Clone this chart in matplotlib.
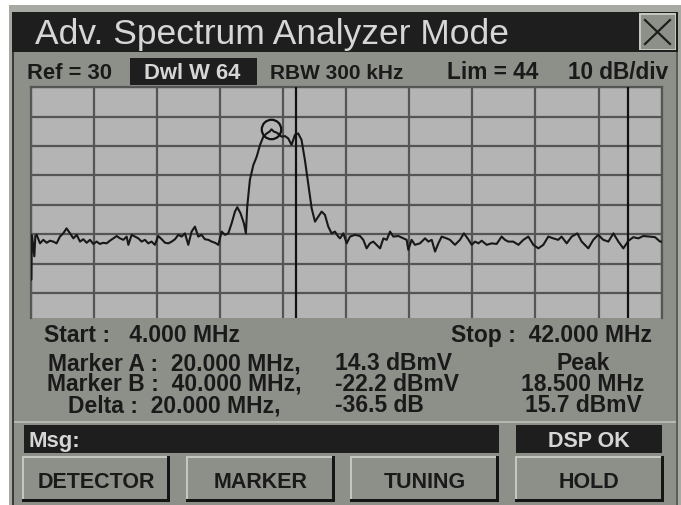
import matplotlib
matplotlib.use('Agg')
import matplotlib.pyplot as plt
from matplotlib.patches import Rectangle
from matplotlib import font_manager

# ---------------- data ----------------
f_start, f_stop = 4.0, 42.0
ref_level, db_per_div = 30, 10
n_xdiv = 10
y_bottom = -48.6

noise_left_freq = [4.00, 4.03, 4.08, 4.22, 4.28, 4.36, 4.56, 4.76, 4.96, 5.16,
                   5.36, 5.56, 5.76, 5.96, 6.16, 6.37, 6.57, 6.77, 6.97, 7.17,
                   7.37, 7.57, 7.77, 7.97, 8.17, 8.37, 8.57, 8.77, 8.97, 9.18,
                   9.38, 9.58, 9.78, 9.88, 10.08, 10.28, 10.48, 10.68, 10.88, 11.08,
                   11.28, 11.48, 11.68, 11.89, 12.09, 12.29, 12.49, 12.69, 12.89, 13.09,
                   13.29, 13.49, 13.69, 13.89, 14.09, 14.29, 14.49, 14.70, 14.90, 15.10,
                   15.30, 15.50, 15.70, 15.90]
noise_left_level = [-20.2, -35.5, -20.4, -27.5, -20.5, -20.2, -23.1, -21.9, -22.9, -22.2,
                    -22.5, -23.1, -20.8, -19.7, -18.0, -19.7, -21.4, -20.2, -22.5, -21.7,
                    -22.9, -21.9, -23.3, -22.5, -23.3, -22.9, -23.1, -22.2, -21.4, -20.6,
                    -21.4, -21.9, -20.8, -23.6, -20.2, -20.8, -21.4, -22.5, -21.9, -23.1,
                    -22.5, -23.6, -20.6, -21.7, -22.9, -23.1, -22.5, -21.7, -20.2, -20.8,
                    -19.7, -23.6, -19.1, -17.4, -20.8, -20.2, -21.7, -21.9, -22.5, -22.9,
                    -23.6, -19.1, -20.2, -19.7]

signal_freq = [16.10, 16.30, 16.44, 16.64, 16.84, 16.96, 17.04, 17.20, 17.41, 17.61,
               17.81, 18.01, 18.21, 18.38, 18.50, 18.65, 18.81, 19.11, 19.31, 19.51,
               19.71, 19.91, 20.11, 20.31, 20.52, 20.72, 20.92, 21.12, 21.32, 21.52,
               21.72, 21.92, 22.12, 22.32, 22.52]
signal_level = [-16.3, -12.3, -10.8, -12.9, -16.3, -19.7, -10.6, -1.5, 3.6, 6.4,
                10.4, 13.2, 14.3, 14.9, 15.7, 14.9, 14.6, 13.2, 13.4, 12.6,
                10.4, 13.8, 14.3, 12.1, 5.0, -3.0, -11.2, -15.7, -14.0, -12.3,
                -13.4, -17.4, -19.7, -19.1, -20.8]

noise_right_freq = [22.63, 22.83, 23.03, 23.23, 23.53, 23.83, 24.03, 24.23, 24.43, 24.63,
                    24.83, 25.04, 25.24, 25.44, 25.64, 25.84, 26.14, 26.44, 26.64, 26.74,
                    26.94, 27.14, 27.44, 27.75, 27.95, 28.15, 28.35, 28.55, 28.75, 29.05,
                    29.25, 29.55, 29.85, 30.09, 30.35, 30.56, 30.76, 30.96, 31.16, 31.46,
                    31.76, 32.06, 32.36, 32.56, 32.76, 33.06, 33.37, 33.67, 33.97, 34.27,
                    34.57, 34.87, 35.17, 35.47, 35.77, 35.97, 36.28, 36.58, 36.92, 37.18,
                    37.58, 37.88, 38.18, 38.48, 38.79, 39.09, 39.39, 39.69, 40.00, 40.29,
                    40.59, 40.89, 41.29, 41.60, 41.90, 42.00]
noise_right_level = [-21.4, -19.7, -23.1, -20.8, -20.2, -20.6, -21.9, -24.8, -23.1, -22.5,
                     -23.6, -24.8, -21.4, -21.9, -19.1, -20.8, -20.6, -21.4, -21.9, -25.3,
                     -21.9, -23.6, -23.1, -21.4, -22.5, -21.9, -25.9, -23.1, -20.8, -21.4,
                     -21.9, -23.6, -21.9, -19.7, -21.7, -23.6, -22.5, -23.1, -22.2, -23.6,
                     -23.1, -23.3, -20.8, -21.9, -22.5, -22.5, -23.6, -21.9, -20.8, -23.6,
                     -24.8, -23.6, -20.8, -21.4, -21.9, -20.8, -23.1, -20.8, -19.7, -22.5,
                     -24.8, -21.9, -20.2, -21.9, -22.5, -19.7, -22.5, -24.8, -22.2, -21.0,
                     -21.4, -20.6, -20.8, -21.0, -22.5, -22.5]

marker_freqs = [20.0, 40.0]
peak_freq, peak_level = 18.5, 15.7

title_text = "Adv. Spectrum Analyzer Mode"
ref_text = "Ref = 30"
dwell_text = "Dwl W 64"
rbw_text = "RBW 300 kHz"
lim_text = "Lim = 44"
scale_text = "10 dB/div"
start_text = "Start :   4.000 MHz"
stop_text = "Stop :  42.000 MHz"
row_labels = ["Marker A :  20.000 MHz,", "Marker B :  40.000 MHz,", "Delta :  20.000 MHz,"]
row_values = ["14.3 dBmV", "-22.2 dBmV", "-36.5 dB"]
peak_labels = ["Peak", "18.500 MHz", "15.7 dBmV"]
msg_text = "Msg:"
status_text = "DSP OK"
buttons = ["DETECTOR", "MARKER", "TUNING", "HOLD"]

# ---------------- style ----------------
W, H = 681, 505
PANEL = '#8d9089'
DARK = '#1e1e1e'
LIGHT = '#c4c6c0'
TXT = '#1a1a1a'
LTXT = '#d6d6d6'
PLOTBG = '#b4b4b4'
GRID = '#555555'

names = {f.name for f in font_manager.fontManager.ttflist}
FONT = 'Liberation Sans' if 'Liberation Sans' in names else 'DejaVu Sans'

fig = plt.figure(figsize=(W / 100, H / 100), dpi=100, facecolor='white')
ui = fig.add_axes([0, 0, 1, 1])
ui.set_xlim(0, W)
ui.set_ylim(H, 0)
ui.axis('off')


def rect(x0, y0, x1, y1, color, z=1):
    ui.add_patch(Rectangle((x0, y0), x1 - x0, y1 - y0, facecolor=color,
                           edgecolor='none', zorder=z))


def txt(x, y, s, size, color=TXT, ha='left', weight='bold'):
    ui.text(x, y, s, fontsize=size, color=color, ha=ha, va='baseline',
            fontweight=weight, family=FONT, zorder=5)


# outer frame
rect(9, 5, W, H, '#a7aaa3')
rect(12, 12, 678, H, PANEL)
rect(12, 12, 678, 52, DARK)
rect(12, 52, 14, H, '#3a3b38', z=2)
rect(676, 52, 678, H, '#5a5c57', z=2)

# title
txt(35, 44, title_text, 25.5, color=LTXT, weight='normal')

# close button
rect(639, 13, 676, 50, LIGHT, z=2)
rect(641, 15, 675, 49, PANEL, z=2)
ui.plot([645, 670], [20, 44], color=DARK, lw=1.6, zorder=3)
ui.plot([645, 670], [44, 20], color=DARK, lw=1.6, zorder=3)

# header row
txt(27, 79, ref_text, 15.8)
rect(130, 58, 257, 85, DARK, z=2)
txt(192, 79, dwell_text, 15.8, color=LTXT, ha='center')
txt(270, 79, rbw_text, 15.0)
txt(447, 79, lim_text, 16.3)
txt(668, 79, scale_text, 16.3, ha='right')

# bottom info
txt(44, 342, start_text, 16.5)
txt(652, 342, stop_text, 16.5, ha='right')
for i, (lab, val, pk) in enumerate(zip(row_labels, row_values, peak_labels)):
    yb = 370 + i * 21
    txt(174, yb, lab, 16.5, ha='center')
    txt(335, yb, val, 16.5)
    txt(583, yb, pk, 16.5, ha='center')

# separator + message bar
rect(14, 421, 676, 423, '#b5b7b1', z=2)
rect(24, 425, 499, 453, DARK, z=2)
txt(29, 447, msg_text, 16, color=LTXT)
rect(516, 425, 662, 453, DARK, z=2)
txt(589, 447, status_text, 15.5, color=LTXT, ha='center')

# buttons
btn_x = [(22, 170), (186, 335), (350, 499), (515, 664)]
for (x0, x1), lab in zip(btn_x, buttons):
    rect(x0, 456, x1, 502, '#151515', z=2)
    rect(x0, 456, x1 - 3, 499, LIGHT, z=2)
    rect(x0 + 2, 458, x1 - 3, 499, PANEL, z=2)
    txt((x0 + x1) / 2, 488, lab, 15.5, ha='center')

# ---------------- spectrum plot ----------------
px0, px1, py0, py1 = 30.7, 661.7, 87.3, 318.3
ax = fig.add_axes([px0 / W, 1 - py1 / H, (px1 - px0) / W, (py1 - py0) / H])
ax.set_facecolor(PLOTBG)
ax.set_xlim(f_start, f_stop)
ax.set_ylim(y_bottom, ref_level)
step = (f_stop - f_start) / n_xdiv
ax.set_xticks([f_start + k * step for k in range(n_xdiv + 1)])
ax.set_yticks(list(range(ref_level, int(y_bottom), -db_per_div)))
ax.grid(True, color=GRID, lw=1.6)
ax.tick_params(length=0, labelbottom=False, labelleft=False)
for s in ['top', 'left', 'right']:
    ax.spines[s].set_color(GRID)
    ax.spines[s].set_linewidth(1.6)
ax.spines['bottom'].set_visible(False)
ax.set_axisbelow(True)

freq = noise_left_freq + signal_freq + noise_right_freq
level = noise_left_level + signal_level + noise_right_level
ax.plot(freq, level, color='#181818', lw=1.5, zorder=3)
for mf in marker_freqs:
    ax.axvline(mf, color='#111111', lw=1.6, zorder=4)
ax.plot([peak_freq], [peak_level], marker='o', ms=14, mfc='none', mec='#111111',
        mew=1.6, zorder=5)

fig.savefig('out.png', dpi=100, facecolor='white')
